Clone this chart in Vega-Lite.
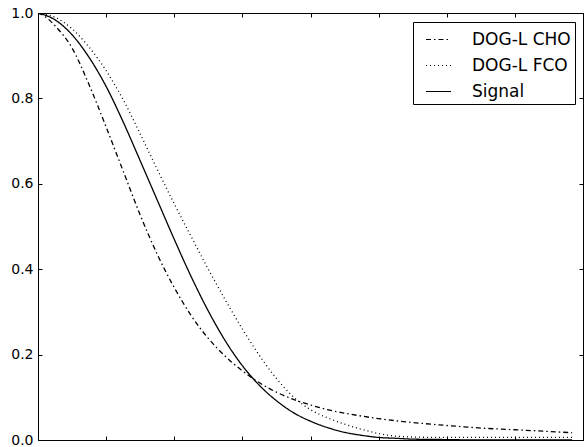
{
  "$schema": "https://vega.github.io/schema/vega-lite/v6.json",
  "width": 545,
  "height": 427,
  "autosize": {"type": "none"},
  "padding": {"left": 38, "top": 13, "right": 1, "bottom": 7},
  "background": "white",
  "config": {
    "view": {"stroke": "black", "strokeWidth": 1},
    "axis": {
      "domainColor": "black",
      "tickColor": "black",
      "labelColor": "black",
      "labelFont": "DejaVu Sans",
      "labelFontSize": 14,
      "grid": false,
      "title": null
    }
  },
  "data": {
    "values": [
      {"x": 0, "y": 1.0, "series": "DOG-L CHO"},
      {"x": 0.1, "y": 0.992, "series": "DOG-L CHO"},
      {"x": 0.25, "y": 0.970, "series": "DOG-L CHO"},
      {"x": 0.5, "y": 0.918, "series": "DOG-L CHO"},
      {"x": 0.75, "y": 0.832, "series": "DOG-L CHO"},
      {"x": 1.0, "y": 0.733, "series": "DOG-L CHO"},
      {"x": 1.25, "y": 0.630, "series": "DOG-L CHO"},
      {"x": 1.5, "y": 0.527, "series": "DOG-L CHO"},
      {"x": 1.75, "y": 0.435, "series": "DOG-L CHO"},
      {"x": 2.0, "y": 0.357, "series": "DOG-L CHO"},
      {"x": 2.25, "y": 0.291, "series": "DOG-L CHO"},
      {"x": 2.5, "y": 0.238, "series": "DOG-L CHO"},
      {"x": 2.75, "y": 0.196, "series": "DOG-L CHO"},
      {"x": 3.0, "y": 0.162, "series": "DOG-L CHO"},
      {"x": 3.25, "y": 0.134, "series": "DOG-L CHO"},
      {"x": 3.5, "y": 0.112, "series": "DOG-L CHO"},
      {"x": 3.75, "y": 0.095, "series": "DOG-L CHO"},
      {"x": 4.0, "y": 0.082, "series": "DOG-L CHO"},
      {"x": 4.25, "y": 0.071, "series": "DOG-L CHO"},
      {"x": 4.5, "y": 0.063, "series": "DOG-L CHO"},
      {"x": 5.0, "y": 0.050, "series": "DOG-L CHO"},
      {"x": 5.5, "y": 0.041, "series": "DOG-L CHO"},
      {"x": 6.0, "y": 0.034, "series": "DOG-L CHO"},
      {"x": 6.5, "y": 0.028, "series": "DOG-L CHO"},
      {"x": 7.0, "y": 0.024, "series": "DOG-L CHO"},
      {"x": 7.5, "y": 0.020, "series": "DOG-L CHO"},
      {"x": 7.84, "y": 0.017, "series": "DOG-L CHO"},
      {"x": 0, "y": 1.0, "series": "DOG-L FCO"},
      {"x": 0.25, "y": 0.990, "series": "DOG-L FCO"},
      {"x": 0.5, "y": 0.963, "series": "DOG-L FCO"},
      {"x": 0.75, "y": 0.920, "series": "DOG-L FCO"},
      {"x": 1.0, "y": 0.865, "series": "DOG-L FCO"},
      {"x": 1.25, "y": 0.797, "series": "DOG-L FCO"},
      {"x": 1.5, "y": 0.717, "series": "DOG-L FCO"},
      {"x": 1.75, "y": 0.634, "series": "DOG-L FCO"},
      {"x": 2.0, "y": 0.553, "series": "DOG-L FCO"},
      {"x": 2.25, "y": 0.476, "series": "DOG-L FCO"},
      {"x": 2.5, "y": 0.400, "series": "DOG-L FCO"},
      {"x": 2.75, "y": 0.328, "series": "DOG-L FCO"},
      {"x": 3.0, "y": 0.260, "series": "DOG-L FCO"},
      {"x": 3.25, "y": 0.198, "series": "DOG-L FCO"},
      {"x": 3.5, "y": 0.144, "series": "DOG-L FCO"},
      {"x": 3.75, "y": 0.101, "series": "DOG-L FCO"},
      {"x": 4.0, "y": 0.071, "series": "DOG-L FCO"},
      {"x": 4.25, "y": 0.052, "series": "DOG-L FCO"},
      {"x": 4.5, "y": 0.037, "series": "DOG-L FCO"},
      {"x": 4.75, "y": 0.025, "series": "DOG-L FCO"},
      {"x": 5.0, "y": 0.015, "series": "DOG-L FCO"},
      {"x": 5.25, "y": 0.009, "series": "DOG-L FCO"},
      {"x": 5.5, "y": 0.007, "series": "DOG-L FCO"},
      {"x": 6.0, "y": 0.006, "series": "DOG-L FCO"},
      {"x": 6.5, "y": 0.006, "series": "DOG-L FCO"},
      {"x": 7.0, "y": 0.006, "series": "DOG-L FCO"},
      {"x": 7.5, "y": 0.006, "series": "DOG-L FCO"},
      {"x": 7.84, "y": 0.006, "series": "DOG-L FCO"},
      {"x": 0, "y": 1.0, "series": "Signal"},
      {"x": 0.25, "y": 0.984, "series": "Signal"},
      {"x": 0.5, "y": 0.949, "series": "Signal"},
      {"x": 0.75, "y": 0.896, "series": "Signal"},
      {"x": 1.0, "y": 0.828, "series": "Signal"},
      {"x": 1.25, "y": 0.745, "series": "Signal"},
      {"x": 1.5, "y": 0.654, "series": "Signal"},
      {"x": 1.75, "y": 0.562, "series": "Signal"},
      {"x": 2.0, "y": 0.470, "series": "Signal"},
      {"x": 2.25, "y": 0.382, "series": "Signal"},
      {"x": 2.5, "y": 0.302, "series": "Signal"},
      {"x": 2.75, "y": 0.232, "series": "Signal"},
      {"x": 3.0, "y": 0.174, "series": "Signal"},
      {"x": 3.25, "y": 0.128, "series": "Signal"},
      {"x": 3.5, "y": 0.092, "series": "Signal"},
      {"x": 3.75, "y": 0.064, "series": "Signal"},
      {"x": 4.0, "y": 0.044, "series": "Signal"},
      {"x": 4.25, "y": 0.029, "series": "Signal"},
      {"x": 4.5, "y": 0.018, "series": "Signal"},
      {"x": 4.75, "y": 0.011, "series": "Signal"},
      {"x": 5.0, "y": 0.006, "series": "Signal"},
      {"x": 5.25, "y": 0.004, "series": "Signal"},
      {"x": 5.5, "y": 0.002, "series": "Signal"},
      {"x": 6.0, "y": 0.001, "series": "Signal"},
      {"x": 6.5, "y": 0.0, "series": "Signal"},
      {"x": 7.0, "y": 0.0, "series": "Signal"},
      {"x": 7.5, "y": 0.0, "series": "Signal"},
      {"x": 7.84, "y": 0.0, "series": "Signal"}
    ]
  },
  "layer": [
    {
      "mark": {"type": "line", "interpolate": "monotone", "stroke": "black", "strokeWidth": 1.3, "clip": true},
      "encoding": {
        "x": {
          "field": "x", "type": "quantitative",
          "scale": {"domain": [0, 8], "nice": false, "zero": false},
          "axis": {"orient": "bottom", "values": [0, 1, 2, 3, 4, 5, 6, 7, 8], "labels": false, "tickSize": -4, "title": null}
        },
        "y": {
          "field": "y", "type": "quantitative",
          "scale": {"domain": [0, 1], "nice": false},
          "axis": {"orient": "left", "values": [0, 0.2, 0.4, 0.6, 0.8, 1.0], "format": ".1f", "tickSize": -4, "labelPadding": 9, "title": null}
        },
        "strokeDash": {
          "field": "series", "type": "nominal",
          "scale": {"domain": ["DOG-L CHO", "DOG-L FCO", "Signal"], "range": [[5, 3, 1.5, 3], [1, 3], [1, 0]]},
          "legend": {
            "title": null,
            "orient": "none",
            "legendX": 375,
            "legendY": 9,
            "symbolType": "stroke",
            "symbolSize": 625,
            "symbolOffset": 8,
            "symbolStrokeColor": "black",
            "symbolStrokeWidth": 1.2,
            "labelFont": "DejaVu Sans",
            "labelFontSize": 17,
            "labelColor": "black",
            "labelOffset": 20,
            "rowPadding": 4,
            "padding": 4,
            "strokeColor": "black",
            "fillColor": "white",
            "cornerRadius": 0
          }
        }
      }
    },
    {
      "mark": {"type": "line", "opacity": 0},
      "encoding": {
        "x": {
          "field": "x", "type": "quantitative",
          "scale": {"domain": [0, 8], "nice": false, "zero": false},
          "axis": {"orient": "top", "values": [0, 1, 2, 3, 4, 5, 6, 7, 8], "labels": false, "tickSize": -4, "title": null}
        },
        "y": {
          "field": "y", "type": "quantitative",
          "scale": {"domain": [0, 1], "nice": false},
          "axis": {"orient": "right", "values": [0, 0.2, 0.4, 0.6, 0.8, 1.0], "labels": false, "tickSize": -4, "title": null}
        },
        "detail": {"field": "series", "type": "nominal"}
      }
    }
  ],
  "resolve": {"axis": {"x": "independent", "y": "independent"}}
}
